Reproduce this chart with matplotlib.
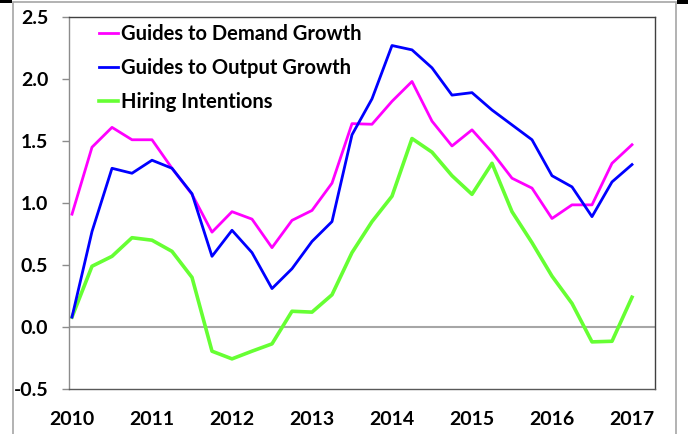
import matplotlib.pyplot as plt
from matplotlib.patches import Rectangle

plt.rcParams["font.family"] = ["Lato", "DejaVu Sans"]
plt.rcParams["font.weight"] = "bold"

# quarterly, 2010 Q1 .. 2017 Q1
years = ["2010", "2011", "2012", "2013", "2014", "2015", "2016", "2017"]
demand = [0.91, 1.45, 1.61, 1.51, 1.51, 1.28, 1.07, 0.765, 0.93, 0.87,
          0.64, 0.86, 0.94, 1.16, 1.64, 1.635, 1.82, 1.98, 1.66, 1.46,
          1.59, 1.41, 1.20, 1.12, 0.875, 0.985, 0.985, 1.32, 1.47]
output = [0.08, 0.77, 1.28, 1.24, 1.345, 1.28, 1.075, 0.57, 0.78, 0.60,
          0.31, 0.47, 0.69, 0.85, 1.55, 1.84, 2.27, 2.235, 2.09, 1.87,
          1.89, 1.75, 1.63, 1.51, 1.22, 1.13, 0.89, 1.17, 1.31]
hiring = [0.08, 0.49, 0.57, 0.72, 0.70, 0.61, 0.40, -0.195, -0.257, -0.195,
          -0.136, 0.127, 0.12, 0.26, 0.60, 0.85, 1.055, 1.52, 1.41, 1.22,
          1.07, 1.32, 0.93, 0.68, 0.41, 0.19, -0.12, -0.115, 0.24]

x = list(range(len(demand)))

fig = plt.figure(figsize=(6.88, 4.34), dpi=100)
ax = fig.add_axes([69 / 688, 1 - 389 / 434, 586 / 688, 372 / 434])

# outer chart-area border
fig.add_artist(Rectangle((12.5 / 688, -0.1), 663.5 / 688, 1.1 - 2.5 / 434,
                         transform=fig.transFigure, fill=False,
                         edgecolor="#a6a6a6", lw=1.2))
fig.add_artist(Rectangle((0, 1 - 2.5 / 434), 12 / 688, 2.5 / 434,
                         transform=fig.transFigure, color="black", lw=0))
fig.add_artist(Rectangle((677 / 688, 1 - 3.5 / 434), 11 / 688, 3.5 / 434,
                         transform=fig.transFigure, color="black", lw=0))

ax.axhline(0, color="#a6a6a6", lw=1.5, zorder=1)
ax.plot(x, demand, color="#ff00ff", lw=2, label="Guides to Demand Growth", zorder=3)
ax.plot(x, output, color="#0000ff", lw=2, label="Guides to Output Growth", zorder=3)
ax.plot(x, hiring, color="#66ff33", lw=2.6, label="Hiring Intentions", zorder=2)

ax.set_xlim(-0.15, 29.15)
ax.set_ylim(-0.5, 2.5)
ax.set_xticks(range(0, len(demand), 4))
ax.set_xticklabels(years)
ax.set_yticks([-0.5, 0.0, 0.5, 1.0, 1.5, 2.0, 2.5])
ax.set_yticklabels(["%.1f" % v for v in [-0.5, 0.0, 0.5, 1.0, 1.5, 2.0, 2.5]])
ax.tick_params(axis="x", length=0, pad=16, labelsize=14)
ax.tick_params(axis="y", length=5, width=1, color="#8c8c8c", pad=10, labelsize=14)

ax.spines["left"].set_color("#8c8c8c")
ax.spines["bottom"].set_color("#595959")
ax.spines["top"].set_color("#404040")
ax.spines["right"].set_color("#404040")
for s in ax.spines.values():
    s.set_linewidth(1)

leg = ax.legend(loc="upper left", bbox_to_anchor=(99 / 688, 1 - 24 / 434),
                bbox_transform=fig.transFigure, frameon=False, fontsize=14.5,
                handlelength=0.95, handletextpad=0.12, labelspacing=0.7,
                borderpad=0, borderaxespad=0)
for t in leg.get_texts():
    t.set_fontweight("bold")

fig.savefig("out.png", dpi=100)
